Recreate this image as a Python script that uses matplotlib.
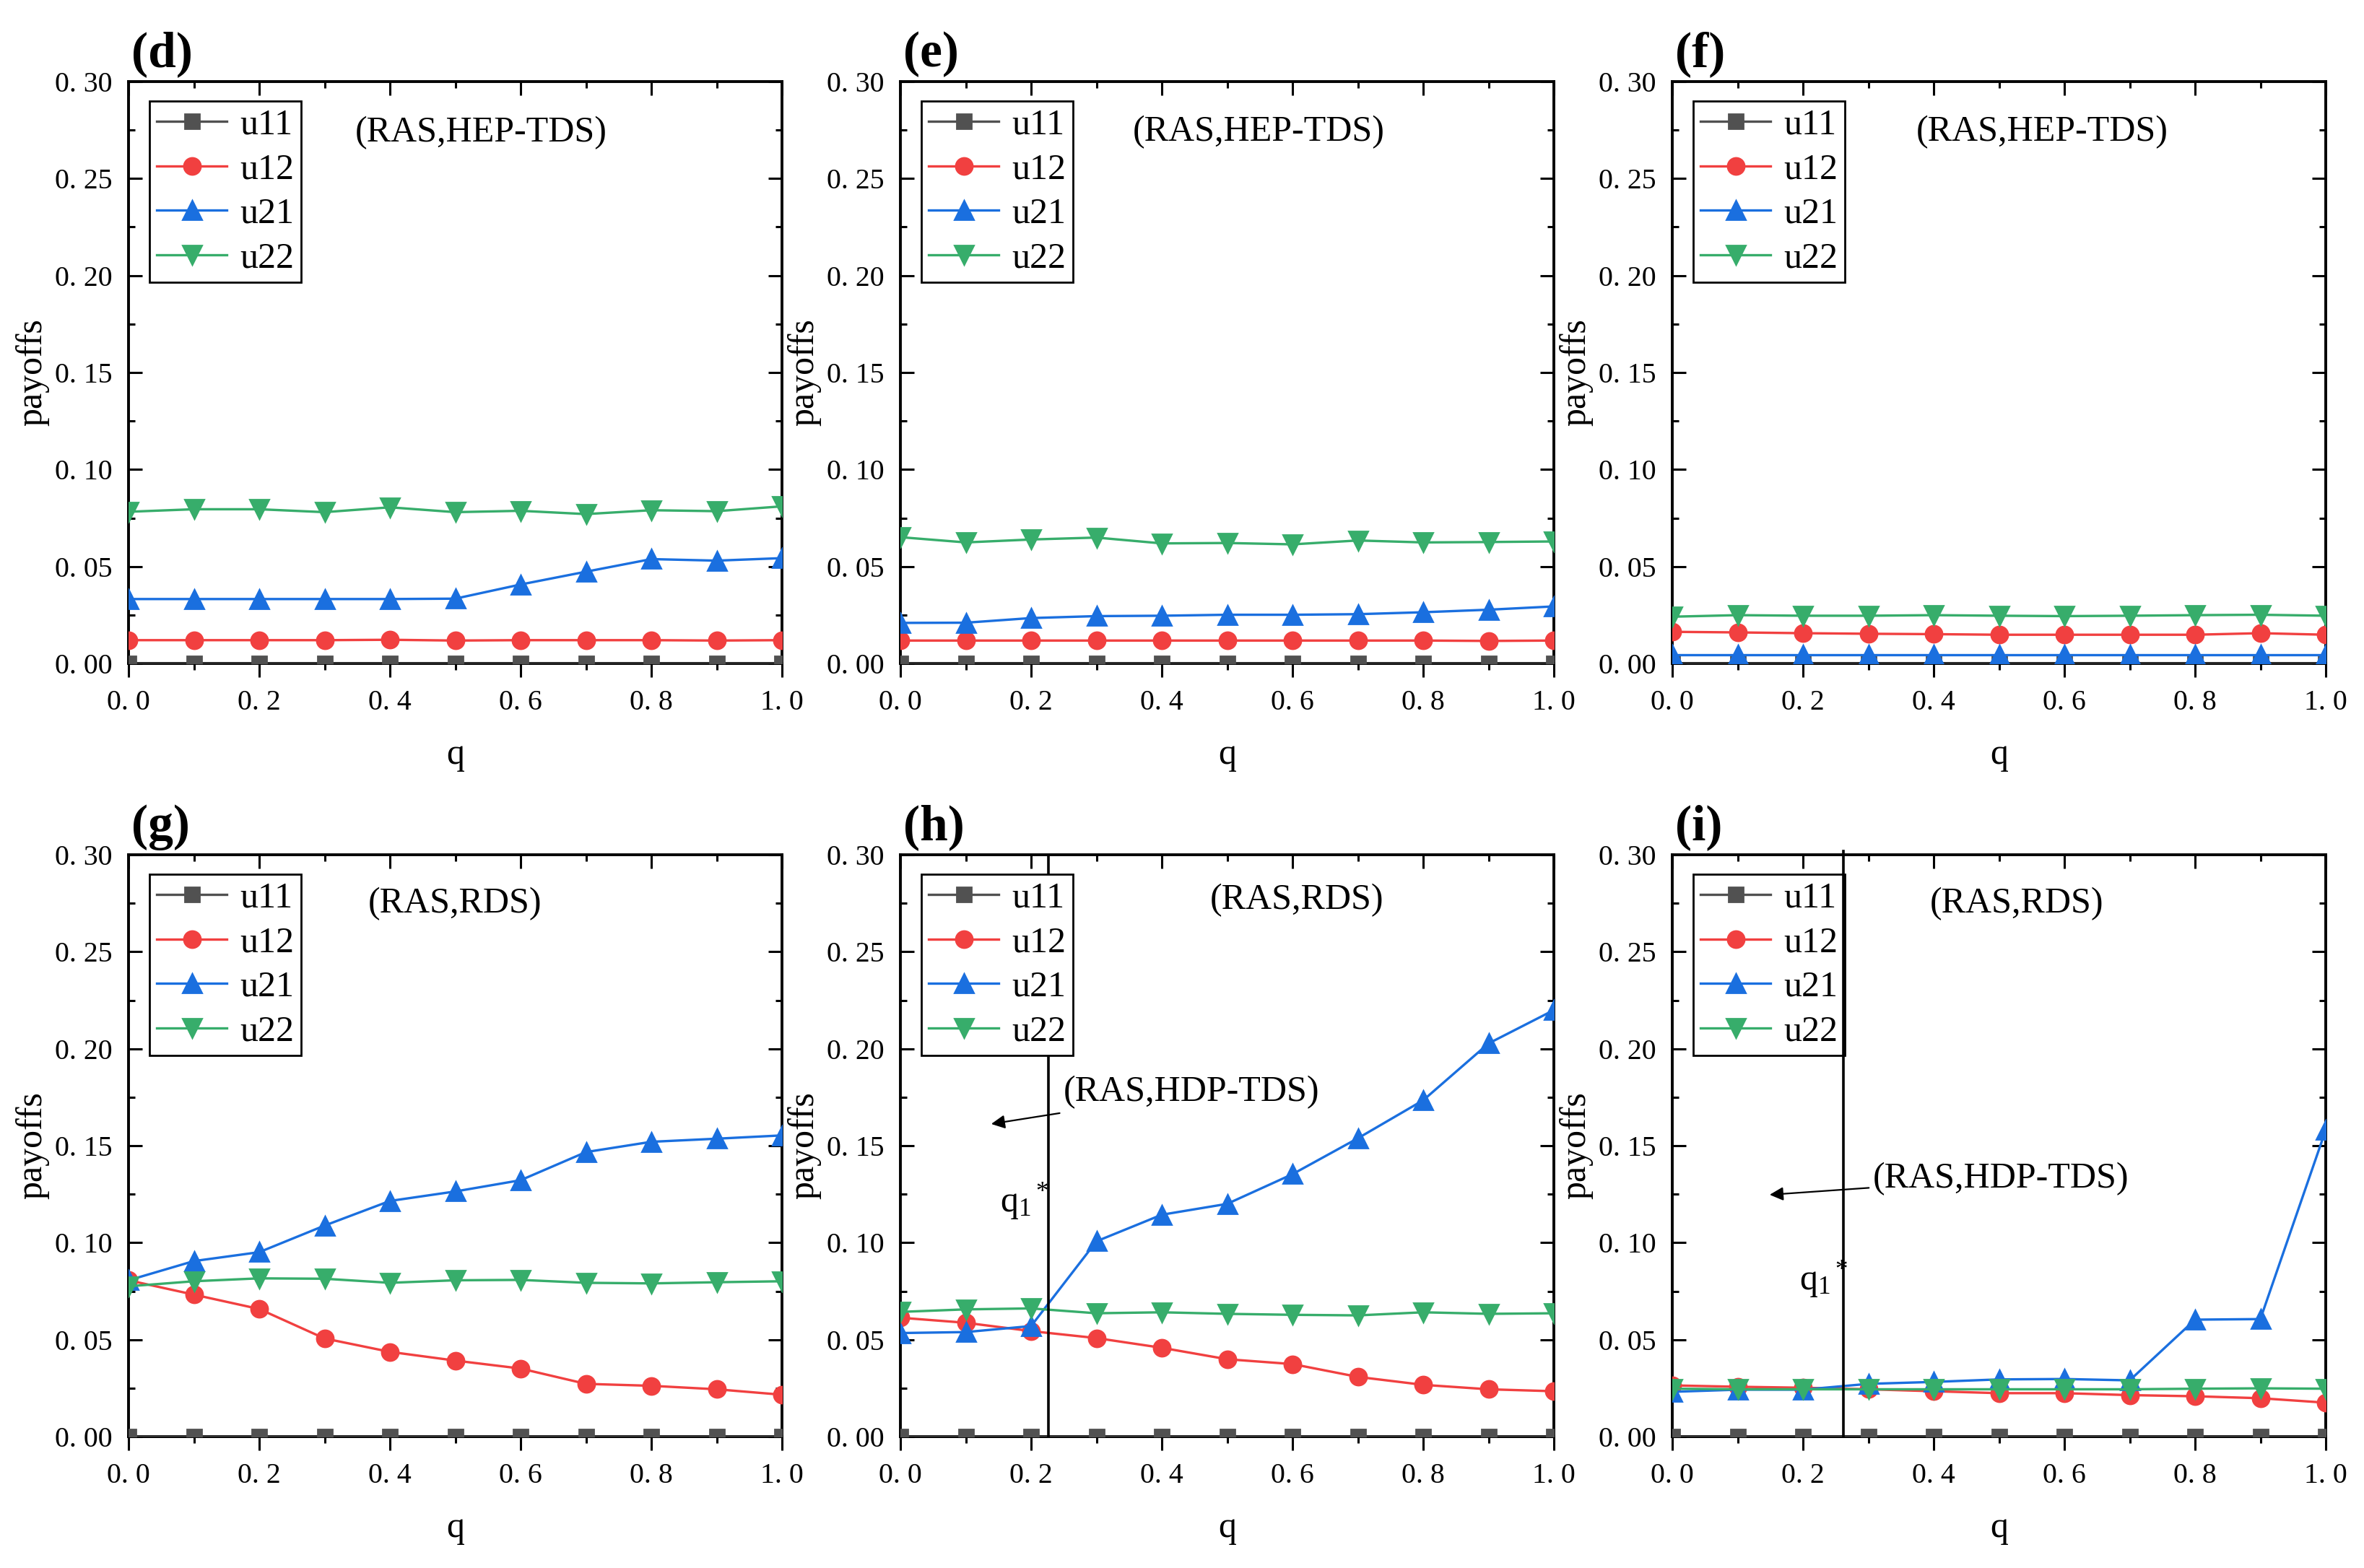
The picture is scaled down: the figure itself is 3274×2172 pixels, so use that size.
import matplotlib
matplotlib.use("Agg")
import matplotlib.pyplot as plt
from matplotlib.ticker import MultipleLocator

plt.rcParams['font.family'] = ['Liberation Serif', 'DejaVu Serif']
plt.rcParams['mathtext.fontset'] = 'custom'
plt.rcParams['mathtext.rm'] = 'Liberation Serif'
plt.rcParams['mathtext.it'] = 'Liberation Serif:italic'

# ---------------- data ----------------
q = [0.0, 0.1, 0.2, 0.3, 0.4, 0.5, 0.6, 0.7, 0.8, 0.9, 1.0]
series_names = ['u11', 'u12', 'u21', 'u22']
panel_labels = ['(d)', '(e)', '(f)', '(g)', '(h)', '(i)']
panel_titles = ['(RAS,HEP-TDS)', '(RAS,HEP-TDS)', '(RAS,HEP-TDS)',
                '(RAS,RDS)', '(RAS,RDS)', '(RAS,RDS)']
ytick_values = [0.00, 0.05, 0.10, 0.15, 0.20, 0.25, 0.30]
ytick_labels = ['0. 00', '0. 05', '0. 10', '0. 15', '0. 20', '0. 25', '0. 30']
xtick_values = [0.0, 0.2, 0.4, 0.6, 0.8, 1.0]
xtick_labels = ['0. 0', '0. 2', '0. 4', '0. 6', '0. 8', '1. 0']

u11_d = [0.0] * 11
u12_d = [0.012, 0.012, 0.012, 0.012, 0.0122, 0.0118, 0.012, 0.012, 0.012, 0.0118, 0.012]
u21_d = [0.0332, 0.0332, 0.0332, 0.0332, 0.0332, 0.0334, 0.0407, 0.0473, 0.0538, 0.053, 0.0543]
u22_d = [0.0782, 0.0795, 0.0795, 0.078, 0.0805, 0.078, 0.0787, 0.077, 0.079, 0.0785, 0.081]

u11_e = [0.0] * 11
u12_e = [0.0118, 0.0118, 0.0118, 0.0118, 0.0118, 0.0118, 0.0118, 0.0118, 0.0118, 0.0116, 0.0118]
u21_e = [0.0209, 0.021, 0.0234, 0.0244, 0.0246, 0.0251, 0.0251, 0.0254, 0.0264, 0.0277, 0.0294]
u22_e = [0.0651, 0.0624, 0.0639, 0.0649, 0.0619, 0.0621, 0.0614, 0.0634, 0.0624, 0.0626, 0.0629]

u11_f = [0.0] * 11
u12_f = [0.0163, 0.016, 0.0156, 0.0153, 0.0151, 0.0148, 0.0148, 0.0148, 0.0148, 0.0156, 0.0148]
u21_f = [0.0045] * 11
u22_f = [0.0241, 0.0249, 0.0246, 0.0246, 0.0249, 0.0246, 0.0244, 0.0246, 0.0249, 0.0251, 0.0246]

u11_g = [0.0] * 11
u12_g = [0.0806, 0.0732, 0.0658, 0.0506, 0.0437, 0.0392, 0.0351, 0.0272, 0.0262, 0.0244, 0.0216]
u21_g = [0.0806, 0.0905, 0.0951, 0.1088, 0.1215, 0.1264, 0.1322, 0.1467, 0.152, 0.1536, 0.1553]
u22_g = [0.0775, 0.0801, 0.0816, 0.0814, 0.0793, 0.0806, 0.0808, 0.0793, 0.079, 0.0796, 0.0801]

u11_h = [0.0] * 11
u12_h = [0.0613, 0.0587, 0.0544, 0.0508, 0.0458, 0.0399, 0.0374, 0.0308, 0.0267, 0.0244, 0.0234]
u21_h = [0.0534, 0.0539, 0.057, 0.1007, 0.1144, 0.12, 0.1353, 0.1538, 0.1734, 0.2027, 0.2199]
u22_h = [0.0643, 0.0656, 0.0661, 0.0636, 0.0641, 0.0633, 0.0628, 0.0625, 0.0641, 0.0633, 0.0636]

u11_i = [0.0] * 11
u12_i = [0.0264, 0.0257, 0.0252, 0.0244, 0.0234, 0.0224, 0.0224, 0.0214, 0.0208, 0.0198, 0.0175]
u21_i = [0.0231, 0.0242, 0.0242, 0.0272, 0.0282, 0.0295, 0.0297, 0.029, 0.0603, 0.0606, 0.1581]
u22_i = [0.0247, 0.0244, 0.0244, 0.0244, 0.0244, 0.0244, 0.0244, 0.0244, 0.0247, 0.0249, 0.0247]

panels = [
    [u11_d, u12_d, u21_d, u22_d],
    [u11_e, u12_e, u21_e, u22_e],
    [u11_f, u12_f, u21_f, u22_f],
    [u11_g, u12_g, u21_g, u22_g],
    [u11_h, u12_h, u21_h, u22_h],
    [u11_i, u12_i, u21_i, u22_i],
]
# threshold q1* in panels (h) and (i)
q1_star_h = 0.227
q1_star_i = 0.262

# ---------------- style ----------------
colors = ['#515151', '#F14040', '#1A6FDF', '#37AD6B']
markers = ['s', 'o', '^', 'v']
msizes = [7.5, 8.3, 9.5, 9.5]

W, H = 3274, 2172
DPI = 200
fig = plt.figure(figsize=(W / DPI, H / DPI), dpi=DPI)

col_left = [178, 1247, 2316]
ax_w = 905
row_top = [113, 1184]
ax_h = 806

title_pos = [(0.54, 0.2736), (0.548, 0.274), (0.566, 0.274),
             (0.50, 0.2746), (0.607, 0.2764), (0.527, 0.2746)]

axes = []
for idx in range(6):
    r, c = divmod(idx, 3)
    left = col_left[c] / W
    bottom = 1 - (row_top[r] + ax_h) / H
    ax = fig.add_axes([left, bottom, ax_w / W, ax_h / H])
    axes.append(ax)
    data = panels[idx]
    for k in range(4):
        ax.plot(q, data[k], color=colors[k], marker=markers[k], markersize=msizes[k],
                lw=1.2, label=series_names[k], zorder=3)
    ax.set_xlim(0, 1.0)
    ax.set_ylim(0, 0.30)
    ax.set_xticks(xtick_values)
    ax.set_xticklabels(xtick_labels)
    ax.set_yticks(ytick_values)
    ax.set_yticklabels(ytick_labels)
    ax.xaxis.set_minor_locator(MultipleLocator(0.1))
    ax.yaxis.set_minor_locator(MultipleLocator(0.025))
    ax.tick_params(axis='both', which='both', top=True, right=True, labelsize=14.3,
                   width=1.1)
    ax.tick_params(axis='y', which='both', direction='in', pad=8)
    ax.tick_params(axis='x', which='both', direction='out', pad=6)
    ax.tick_params(axis='both', which='major', length=6.8)
    ax.tick_params(axis='both', which='minor', length=3.2)
    # top ticks point inward (bottom ones outward)
    for t in ax.xaxis.get_major_ticks() + ax.xaxis.get_minor_ticks():
        t.tick2line.set_marker(3)
    for s in ax.spines.values():
        s.set_linewidth(1.4)
    ax.set_xlabel('q', fontsize=18, labelpad=11)
    ax.set_ylabel('payoffs', fontsize=18, labelpad=3)
    leg = ax.legend(loc='upper left', bbox_to_anchor=(0.032, 0.966), borderaxespad=0,
                    fontsize=18, frameon=True, fancybox=False, framealpha=1,
                    edgecolor='black', borderpad=0.2, handlelength=1.95,
                    handletextpad=0.35, labelspacing=0.3)
    leg.get_frame().set_linewidth(1.0)
    leg.set_zorder(5)
    ax.text(0.004, 1.026, panel_labels[idx], transform=ax.transAxes, fontsize=25,
            fontweight='bold', ha='left', va='baseline')
    tx, ty = title_pos[idx]
    ax.text(tx, ty, panel_titles[idx], fontsize=18, ha='center', va='center')

# panel (h) annotations
ax = axes[4]
ax.axvline(q1_star_h, color='black', lw=1.3, zorder=4)
ax.text(0.152, 0.1215, r'$\mathregular{q_1{}^*}$', fontsize=18, ha='left', va='center')
ax.annotate('(RAS,HDP-TDS)', xy=(0.139, 0.1612), xytext=(0.249, 0.1775),
            fontsize=18, ha='left', va='center',
            arrowprops=dict(arrowstyle='-|>', color='black', lw=0.8,
                            mutation_scale=14, shrinkA=0, shrinkB=0))

# panel (i) annotations
ax = axes[5]
ax.axvline(q1_star_i, ymin=0, ymax=1.006, color='black', lw=1.3, zorder=6, clip_on=False)
ax.text(0.195, 0.081, r'$\mathregular{q_1{}^*}$', fontsize=18, ha='left', va='center')
ax.annotate('(RAS,HDP-TDS)', xy=(0.149, 0.1247), xytext=(0.307, 0.1330),
            fontsize=18, ha='left', va='center',
            arrowprops=dict(arrowstyle='-|>', color='black', lw=0.8,
                            mutation_scale=14, shrinkA=0, shrinkB=0))

fig.savefig('out.png', dpi=DPI)
